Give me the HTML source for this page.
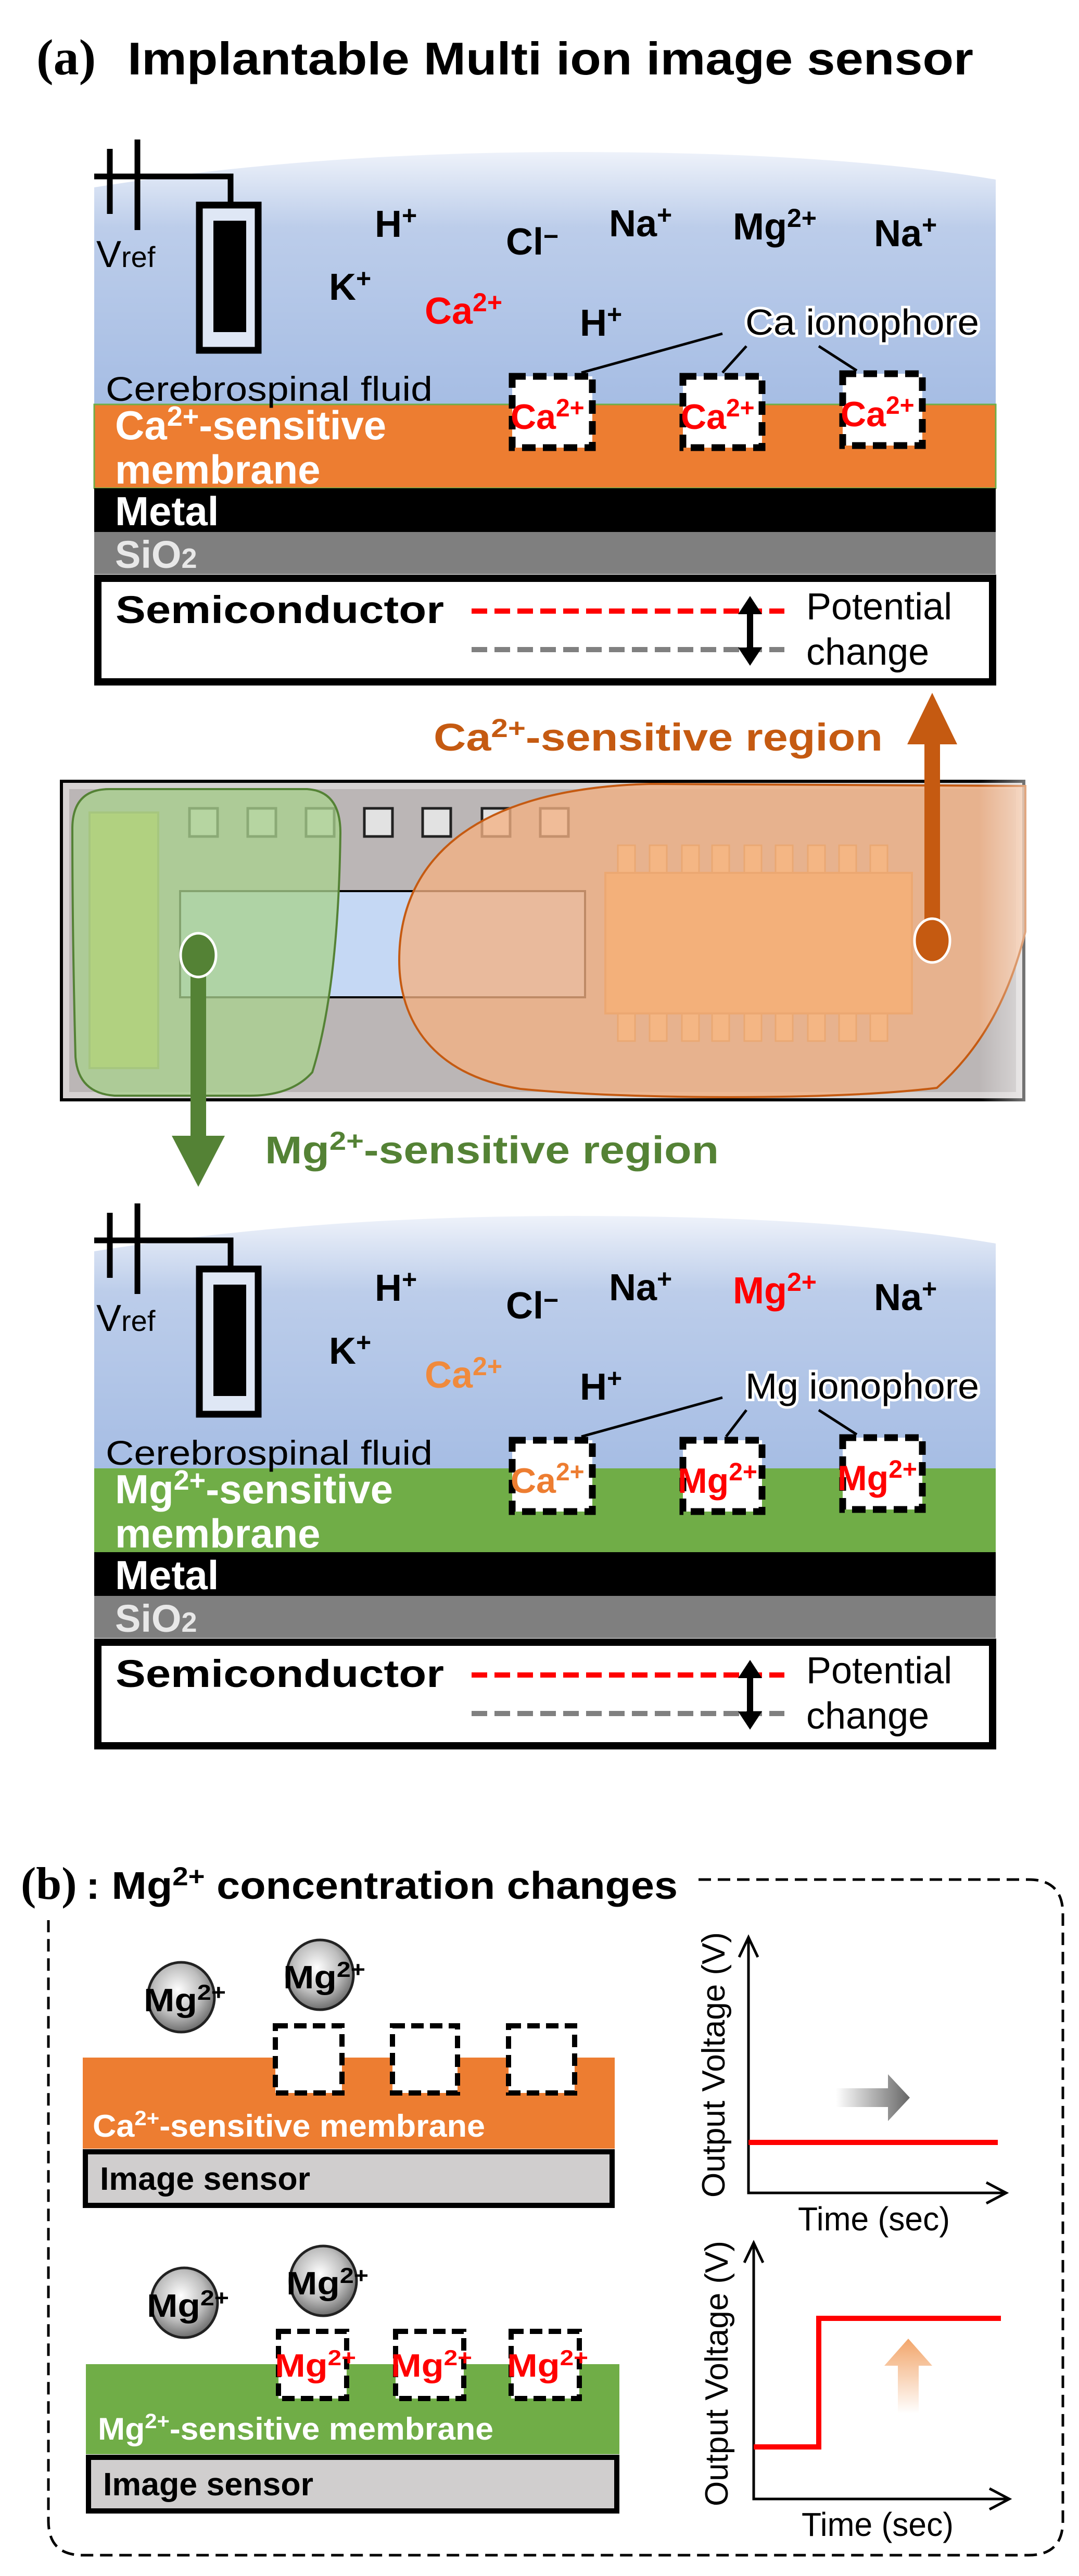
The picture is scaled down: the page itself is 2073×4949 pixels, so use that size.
<!DOCTYPE html>
<html><head><meta charset="utf-8"><style>
html,body{margin:0;padding:0;background:#fff}
svg{display:block}
text{font-family:"Liberation Sans",Arial,sans-serif}
.b{font-weight:bold}
.serif{font-family:"Liberation Serif",serif;font-weight:bold}
</style></head><body>
<svg width="2073" height="4949" viewBox="0 0 2073 4949" xmlns="http://www.w3.org/2000/svg">
<defs>
<linearGradient id="fl" x1="0" y1="0" x2="0" y2="1">
<stop offset="0" stop-color="#eef2fa"/><stop offset="0.3" stop-color="#bccdea"/><stop offset="1" stop-color="#a6bde4"/>
</linearGradient>
<radialGradient id="sp" cx="0.45" cy="0.4" r="0.6">
<stop offset="0" stop-color="#ffffff"/><stop offset="0.6" stop-color="#bdbdbd"/><stop offset="1" stop-color="#6e6e6e"/>
</radialGradient>
<linearGradient id="ga" x1="0" y1="0" x2="1" y2="0"><stop offset="0" stop-color="#fff"/><stop offset="1" stop-color="#666"/></linearGradient>
<linearGradient id="oa" x1="0" y1="1" x2="0" y2="0"><stop offset="0" stop-color="#fff"/><stop offset="1" stop-color="#f2a56a"/></linearGradient>
<linearGradient id="fade" x1="0" y1="0" x2="1" y2="0"><stop offset="0" stop-color="#fff" stop-opacity="0"/><stop offset="1" stop-color="#fff" stop-opacity="1"/></linearGradient>
</defs>

<text x="70" y="143" class="serif" font-size="98">(a)</text>
<text x="245" y="143" class="b" font-size="88" textLength="1625" lengthAdjust="spacingAndGlyphs">Implantable Multi ion image sensor</text>

<!-- ===== Panel 1 ===== -->
<g>
<path d="M181 360 Q 600 292 1100 292 Q 1600 292 1913 345 V 777 H 181 Z" fill="url(#fl)"/>
<rect x="181" y="777" width="1732" height="161" fill="#ed7d31" stroke="#70ad47" stroke-width="3"/>
<rect x="181" y="938" width="1732" height="84" fill="#000"/>
<rect x="181" y="1022" width="1732" height="81" fill="#7f7f7f"/>
<rect x="188" y="1111" width="1719" height="199" fill="#fff" stroke="#000" stroke-width="14"/>
<g stroke="#000" stroke-width="11" fill="none">
<line x1="211" y1="286" x2="211" y2="411"/><line x1="264" y1="268" x2="264" y2="442"/>
<polyline points="181,339 443,339 443,392"/>
</g>
<rect x="383" y="394" width="113" height="279" fill="#dfe7f5" stroke="#000" stroke-width="13"/>
<rect x="410" y="424" width="63" height="214" fill="#000"/>
<text x="185" y="513" font-size="72">V<tspan font-size="56">ref</tspan></text>
<g font-size="72">
<text x="720" y="455" class="b">H<tspan font-size="50" dy="-24">+</tspan></text>
<text x="972" y="489" class="b">Cl<tspan font-size="50" dy="-18">−</tspan></text>
<text x="1170" y="454" class="b">Na<tspan font-size="50" dy="-24">+</tspan></text>
<text x="1408" y="460" class="b">Mg<tspan font-size="50" dy="-24">2+</tspan></text>
<text x="1679" y="473" class="b">Na<tspan font-size="50" dy="-24">+</tspan></text>
<text x="632" y="576" class="b">K<tspan font-size="50" dy="-24">+</tspan></text>
<text x="816" y="622" class="b" fill="#ff0000">Ca<tspan font-size="50" dy="-24">2+</tspan></text>
<text x="1114" y="645" class="b">H<tspan font-size="50" dy="-24">+</tspan></text>
</g>
<text x="1432" y="643" font-size="70" textLength="449" lengthAdjust="spacingAndGlyphs" stroke="#fff" stroke-width="10" paint-order="stroke">Ca ionophore</text>
<g stroke="#000" stroke-width="5"><line x1="1388" y1="641" x2="1117" y2="716"/><line x1="1434" y1="665" x2="1388" y2="716"/><line x1="1573" y1="665" x2="1646" y2="712"/></g>
<text x="203" y="770" font-size="66" textLength="628" lengthAdjust="spacingAndGlyphs">Cerebrospinal fluid</text>
<g fill="#fff" stroke="#000" stroke-width="13" stroke-dasharray="26 14">
<rect x="984" y="723" width="154" height="137"/><rect x="1312" y="723" width="152" height="137"/><rect x="1619" y="718" width="153" height="138"/>
</g>
<g font-size="68" fill="#ff0000">
<text x="981" y="824" class="b">Ca<tspan font-size="48" dy="-24">2+</tspan></text>
<text x="1308" y="824" class="b">Ca<tspan font-size="48" dy="-24">2+</tspan></text>
<text x="1615" y="819" class="b">Ca<tspan font-size="48" dy="-24">2+</tspan></text>
</g>
<text x="221" y="844" class="b" font-size="78" fill="#fff">Ca<tspan font-size="54" dy="-26">2+</tspan><tspan dy="26">-sensitive</tspan></text>
<text x="221" y="929" class="b" font-size="78" fill="#fff">membrane</text>
<text x="221" y="1009" class="b" font-size="78" fill="#fff">Metal</text>
<text x="221" y="1091" class="b" font-size="74" fill="#e8e8e8">SiO<tspan font-size="54">2</tspan></text>
<text x="222" y="1197" class="b" font-size="74" textLength="631" lengthAdjust="spacingAndGlyphs">Semiconductor</text>
<line x1="906" y1="1174" x2="1507" y2="1174" stroke="#ff0000" stroke-width="10" stroke-dasharray="30 14"/>
<line x1="906" y1="1248" x2="1507" y2="1248" stroke="#808080" stroke-width="10" stroke-dasharray="30 14"/>
<line x1="1441" y1="1170" x2="1441" y2="1255" stroke="#000" stroke-width="12"/>
<polygon points="1441,1145 1418,1180 1464,1180"/><polygon points="1441,1279 1418,1244 1464,1244"/>
<text x="1549" y="1190" font-size="72">Potential</text>
<text x="1549" y="1277" font-size="72">change</text>
</g>

<text x="833" y="1442" class="b" font-size="74" fill="#c55a11" textLength="863" lengthAdjust="spacingAndGlyphs">Ca<tspan font-size="50" dy="-26">2+</tspan><tspan dy="26">-sensitive region</tspan></text>

<!-- Chip -->
<rect x="115" y="1498" width="1855" height="618" fill="#000"/>
<rect x="121" y="1504" width="1843" height="606" fill="#d6d2d2"/>
<rect x="133" y="1516" width="1819" height="582" fill="#bbb6b6"/>
<g stroke="#222" stroke-width="5" fill="#e2e2e2">
<rect x="364" y="1553" width="54" height="54"/><rect x="476" y="1553" width="54" height="54"/><rect x="588" y="1553" width="54" height="54"/>
<rect x="700" y="1553" width="54" height="54"/><rect x="812" y="1553" width="54" height="54"/><rect x="926" y="1553" width="54" height="54"/><rect x="1038" y="1553" width="54" height="54"/>
</g>
<rect x="172" y="1561" width="132" height="491" fill="#cdd24f" stroke="#9aa04a" stroke-width="4"/>
<rect x="346" y="1712" width="778" height="204" fill="#c5d8f4" stroke="#000" stroke-width="4"/>
<g fill="#f7c68a" stroke="#c98b3d" stroke-width="3">
<rect x="1187" y="1624" width="33" height="53"/><rect x="1248" y="1624" width="33" height="53"/><rect x="1310" y="1624" width="33" height="53"/><rect x="1368" y="1624" width="33" height="53"/><rect x="1430" y="1624" width="33" height="53"/><rect x="1490" y="1624" width="33" height="53"/><rect x="1552" y="1624" width="33" height="53"/><rect x="1612" y="1624" width="33" height="53"/><rect x="1672" y="1624" width="33" height="53"/>
<rect x="1187" y="1947" width="33" height="53"/><rect x="1248" y="1947" width="33" height="53"/><rect x="1310" y="1947" width="33" height="53"/><rect x="1368" y="1947" width="33" height="53"/><rect x="1430" y="1947" width="33" height="53"/><rect x="1490" y="1947" width="33" height="53"/><rect x="1552" y="1947" width="33" height="53"/><rect x="1612" y="1947" width="33" height="53"/><rect x="1672" y="1947" width="33" height="53"/>
</g>
<rect x="1163" y="1677" width="589" height="270" fill="#f2ad5c" stroke="#d08a3a" stroke-width="4"/>
<path d="M767 1845 C 767 1660 900 1515 1250 1506 L 1970 1510 V 1790 C 1940 1910 1890 2010 1800 2090 C 1600 2115 1200 2112 1000 2092 C 830 2065 767 1960 767 1845 Z" fill="#f4b183" fill-opacity="0.78" stroke="#c55a11" stroke-width="4"/>
<path d="M210 1516 H 590 Q 654 1520 654 1600 Q 650 1900 600 2060 Q 560 2105 480 2105 H 220 Q 150 2100 145 2030 Q 139 1800 139 1590 Q 140 1516 210 1516 Z" fill="#a9d18e" fill-opacity="0.78" stroke="#548235" stroke-width="4"/>
<rect x="1880" y="1490" width="193" height="640" fill="url(#fade)"/>

<rect x="1776" y="1420" width="30" height="390" fill="#c55a11"/>
<polygon points="1791,1331 1743,1430 1839,1430" fill="#c55a11"/>
<ellipse cx="1791" cy="1807" rx="34" ry="42" fill="#c55a11" stroke="#fff" stroke-width="5"/>
<rect x="366" y="1835" width="30" height="360" fill="#548235"/>
<polygon points="330,2182 432,2182 381,2280" fill="#548235"/>
<ellipse cx="381" cy="1835" rx="34" ry="42" fill="#548235" stroke="#fff" stroke-width="5"/>
<text x="509" y="2235" class="b" font-size="74" fill="#548235" textLength="872" lengthAdjust="spacingAndGlyphs">Mg<tspan font-size="50" dy="-26">2+</tspan><tspan dy="26">-sensitive region</tspan></text>

<!-- ===== Panel 2 ===== -->
<g transform="translate(0,2044)">
<path d="M181 360 Q 600 292 1100 292 Q 1600 292 1913 345 V 777 H 181 Z" fill="url(#fl)"/>
<rect x="181" y="777" width="1732" height="161" fill="#70ad47"/>
<rect x="181" y="938" width="1732" height="84" fill="#000"/>
<rect x="181" y="1022" width="1732" height="81" fill="#7f7f7f"/>
<rect x="188" y="1111" width="1719" height="199" fill="#fff" stroke="#000" stroke-width="14"/>
<g stroke="#000" stroke-width="11" fill="none">
<line x1="211" y1="286" x2="211" y2="411"/><line x1="264" y1="268" x2="264" y2="442"/>
<polyline points="181,339 443,339 443,392"/>
</g>
<rect x="383" y="394" width="113" height="279" fill="#dfe7f5" stroke="#000" stroke-width="13"/>
<rect x="410" y="424" width="63" height="214" fill="#000"/>
<text x="185" y="513" font-size="72">V<tspan font-size="56">ref</tspan></text>
<g font-size="72">
<text x="720" y="455" class="b">H<tspan font-size="50" dy="-24">+</tspan></text>
<text x="972" y="489" class="b">Cl<tspan font-size="50" dy="-18">−</tspan></text>
<text x="1170" y="454" class="b">Na<tspan font-size="50" dy="-24">+</tspan></text>
<text x="1408" y="460" class="b" fill="#ff0000">Mg<tspan font-size="50" dy="-24">2+</tspan></text>
<text x="1679" y="473" class="b">Na<tspan font-size="50" dy="-24">+</tspan></text>
<text x="632" y="576" class="b">K<tspan font-size="50" dy="-24">+</tspan></text>
<text x="816" y="622" class="b" fill="#f08a3c">Ca<tspan font-size="50" dy="-24">2+</tspan></text>
<text x="1114" y="645" class="b">H<tspan font-size="50" dy="-24">+</tspan></text>
</g>
<text x="1432" y="643" font-size="70" textLength="449" lengthAdjust="spacingAndGlyphs" stroke="#fff" stroke-width="10" paint-order="stroke">Mg ionophore</text>
<g stroke="#000" stroke-width="5"><line x1="1388" y1="641" x2="1117" y2="716"/><line x1="1434" y1="665" x2="1395" y2="716"/><line x1="1573" y1="665" x2="1646" y2="712"/></g>
<text x="203" y="770" font-size="66" textLength="628" lengthAdjust="spacingAndGlyphs">Cerebrospinal fluid</text>
<g fill="#fff" stroke="#000" stroke-width="13" stroke-dasharray="26 14">
<rect x="984" y="723" width="154" height="137"/><rect x="1312" y="723" width="152" height="137"/><rect x="1619" y="718" width="153" height="138"/>
</g>
<g font-size="68">
<text x="981" y="824" class="b" fill="#ed7d31">Ca<tspan font-size="48" dy="-24">2+</tspan></text>
<text x="1302" y="824" class="b" fill="#ff0000">Mg<tspan font-size="48" dy="-24">2+</tspan></text>
<text x="1609" y="819" class="b" fill="#ff0000">Mg<tspan font-size="48" dy="-24">2+</tspan></text>
</g>
<text x="221" y="844" class="b" font-size="78" fill="#fff">Mg<tspan font-size="54" dy="-26">2+</tspan><tspan dy="26">-sensitive</tspan></text>
<text x="221" y="929" class="b" font-size="78" fill="#fff">membrane</text>
<text x="221" y="1009" class="b" font-size="78" fill="#fff">Metal</text>
<text x="221" y="1091" class="b" font-size="74" fill="#e8e8e8">SiO<tspan font-size="54">2</tspan></text>
<text x="222" y="1197" class="b" font-size="74" textLength="631" lengthAdjust="spacingAndGlyphs">Semiconductor</text>
<line x1="906" y1="1174" x2="1507" y2="1174" stroke="#ff0000" stroke-width="10" stroke-dasharray="30 14"/>
<line x1="906" y1="1248" x2="1507" y2="1248" stroke="#808080" stroke-width="10" stroke-dasharray="30 14"/>
<line x1="1441" y1="1170" x2="1441" y2="1255" stroke="#000" stroke-width="12"/>
<polygon points="1441,1145 1418,1180 1464,1180"/><polygon points="1441,1279 1418,1244 1464,1244"/>
<text x="1549" y="1190" font-size="72">Potential</text>
<text x="1549" y="1277" font-size="72">change</text>
</g>

<!-- ===== Panel (b) ===== -->
<text x="40" y="3648" class="serif" font-size="88">(b)</text>
<text x="165" y="3648" class="b" font-size="74" textLength="1137" lengthAdjust="spacingAndGlyphs">: Mg<tspan font-size="50" dy="-26">2+</tspan><tspan dy="26"> concentration changes</tspan></text>
<path d="M1342 3611 H 1976 Q 2042 3611 2042 3677 V 4843 Q 2042 4909 1976 4909 H 159 Q 93 4909 93 4843 V 3689" fill="none" stroke="#000" stroke-width="5" stroke-dasharray="24 13"/>

<rect x="159" y="3953" width="1022" height="175" fill="#ed7d31"/>
<rect x="164" y="4134" width="1012" height="103" fill="#d0cece" stroke="#000" stroke-width="10"/>
<text x="178" y="4105" class="b" font-size="60" fill="#fff" textLength="754" lengthAdjust="spacingAndGlyphs">Ca<tspan font-size="40" dy="-22">2+</tspan><tspan dy="22">-sensitive membrane</tspan></text>
<text x="192" y="4207" class="b" font-size="62" textLength="404" lengthAdjust="spacingAndGlyphs">Image sensor</text>
<g fill="#fff" stroke="#000" stroke-width="10" stroke-dasharray="24 12">
<rect x="529" y="3892" width="128" height="129"/><rect x="754" y="3892" width="125" height="129"/><rect x="977" y="3892" width="127" height="129"/>
</g>
<ellipse cx="348" cy="3837" rx="64" ry="67" fill="url(#sp)" stroke="#222" stroke-width="5"/>
<ellipse cx="615" cy="3794" rx="64" ry="67" fill="url(#sp)" stroke="#222" stroke-width="5"/>
<text x="276" y="3864" class="b" font-size="62" textLength="158" lengthAdjust="spacingAndGlyphs">Mg<tspan font-size="42" dy="-22">2+</tspan></text>
<text x="544" y="3820" class="b" font-size="62" textLength="158" lengthAdjust="spacingAndGlyphs">Mg<tspan font-size="42" dy="-22">2+</tspan></text>

<g stroke="#000" stroke-width="5" fill="none">
<polyline points="1438,3722 1438,4213 1933,4213"/>
<polyline points="1420,3760 1438,3722 1456,3760"/>
<polyline points="1895,4193 1933,4213 1895,4233"/>
</g>
<line x1="1438" y1="4116" x2="1917" y2="4116" stroke="#ff0000" stroke-width="10"/>
<polygon points="1606,4012 1706,4012 1706,3985 1748,4030 1706,4075 1706,4048 1606,4048" fill="url(#ga)"/>
<text x="1533" y="4285" font-size="64" textLength="292" lengthAdjust="spacingAndGlyphs">Time (sec)</text>
<text transform="translate(1392,3967) rotate(-90)" text-anchor="middle" font-size="62">Output Voltage (V)</text>

<rect x="165" y="4542" width="1025" height="173" fill="#70ad47"/>
<rect x="170" y="4721" width="1015" height="103" fill="#d0cece" stroke="#000" stroke-width="10"/>
<text x="188" y="4687" class="b" font-size="60" fill="#fff" textLength="760" lengthAdjust="spacingAndGlyphs">Mg<tspan font-size="40" dy="-22">2+</tspan><tspan dy="22">-sensitive membrane</tspan></text>
<text x="198" y="4794" class="b" font-size="62" textLength="404" lengthAdjust="spacingAndGlyphs">Image sensor</text>
<g fill="#fff" stroke="#000" stroke-width="10" stroke-dasharray="24 12">
<rect x="535" y="4479" width="131" height="129"/><rect x="760" y="4479" width="131" height="129"/><rect x="982" y="4479" width="131" height="129"/>
</g>
<g font-size="62" fill="#ff0000">
<text x="528" y="4566" class="b" textLength="156" lengthAdjust="spacingAndGlyphs">Mg<tspan font-size="42" dy="-22">2+</tspan></text>
<text x="751" y="4566" class="b" textLength="156" lengthAdjust="spacingAndGlyphs">Mg<tspan font-size="42" dy="-22">2+</tspan></text>
<text x="974" y="4566" class="b" textLength="156" lengthAdjust="spacingAndGlyphs">Mg<tspan font-size="42" dy="-22">2+</tspan></text>
</g>
<ellipse cx="354" cy="4424" rx="64" ry="67" fill="url(#sp)" stroke="#222" stroke-width="5"/>
<ellipse cx="621" cy="4382" rx="64" ry="67" fill="url(#sp)" stroke="#222" stroke-width="5"/>
<text x="282" y="4451" class="b" font-size="62" textLength="158" lengthAdjust="spacingAndGlyphs">Mg<tspan font-size="42" dy="-22">2+</tspan></text>
<text x="550" y="4408" class="b" font-size="62" textLength="158" lengthAdjust="spacingAndGlyphs">Mg<tspan font-size="42" dy="-22">2+</tspan></text>

<g stroke="#000" stroke-width="5" fill="none">
<polyline points="1448,4309 1448,4801 1939,4801"/>
<polyline points="1430,4347 1448,4309 1466,4347"/>
<polyline points="1901,4781 1939,4801 1901,4821"/>
</g>
<polyline points="1448,4701 1573,4701 1573,4454 1923,4454" fill="none" stroke="#ff0000" stroke-width="10"/>
<polygon points="1745,4493 1791,4545 1765,4545 1765,4637 1725,4637 1725,4545 1699,4545" fill="url(#oa)"/>
<text x="1540" y="4872" font-size="64" textLength="292" lengthAdjust="spacingAndGlyphs">Time (sec)</text>
<text transform="translate(1398,4560) rotate(-90)" text-anchor="middle" font-size="62">Output Voltage (V)</text>
</svg>
</body></html>
